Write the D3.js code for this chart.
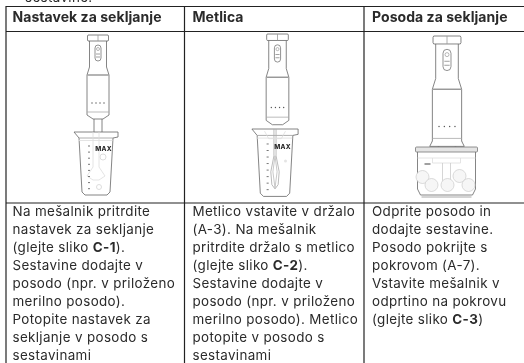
<!DOCTYPE html>
<html>
<head>
<meta charset="utf-8">
<script src="https://cdn.jsdelivr.net/npm/d3@7/dist/d3.min.js"></script>
<style>
  html, body { margin: 0; background: #fff; overflow: hidden; }
  svg { display: block; filter: blur(0.4px); }
  text { font-family: Inter, "Open Sans", sans-serif; fill: #2a2a2a; }
</style>
</head>
<body>
<script>
var headers = ["Nastavek za sekljanje", "Metlica", "Posoda za sekljanje"];
var carryOver = "sestavine.";
var column1 = ["Na mešalnik pritrdite", "nastavek za sekljanje", "(glejte sliko C-1).", "Sestavine dodajte v",
  "posodo (npr. v priloženo", "merilno posodo).", "Potopite nastavek za", "sekljanje v posodo s", "sestavinami"];
var column2 = ["Metlico vstavite v držalo", "(A-3). Na mešalnik", "pritrdite držalo s metlico", "(glejte sliko C-2).",
  "Sestavine dodajte v", "posodo (npr. v priloženo", "merilno posodo). Metlico", "potopite v posodo s", "sestavinami"];
var column3 = ["Odprite posodo in", "dodajte sestavine.", "Posodo pokrijte s", "pokrovom (A-7).", "Vstavite mešalnik v",
  "odprtino na pokrovu", "(glejte sliko C-3)"];
var jugLabel = "MAX";

// shape outlines, in the units of the blender drawing
var blenderCap = [[-10.5, 1], [-10, 0], [10, 0], [10.5, 1], [10.5, 5], [10, 6], [-10, 6], [-10.5, 5], [-10.5, 1]];
var blenderBody = [[-8.5, 6], [-8.5, 32], [-11, 40], [-11, 80], [-5, 84], [5, 84], [11, 80], [11, 40], [8.5, 32], [8.5, 6]];
var blenderFoot = [[-11, 79], [-13, 83], [13, 83], [11, 79]];
var jugOutline = [[-22, 0], [22, 0], [22, 5], [17, 6], [14, 60], [11, 63], [-11, 63], [-14, 60], [-17, 6], [-22, 0]];
var bowlOutline = [[-29, 0], [29, 0], [29, 41], [26, 47], [-26, 47], [-29, 41], [-29, 0]];
var fruitsX = [-24, -15, 1, 13, 22];
var fruitsY = [29, 37, 37, 28, 37];

var width = 524, height = 363;
var svg = d3.select("body").append("svg").attr("width", width).attr("height", height);
var line = d3.line();

function drawRows() {
  svg.append("text").attr("x", 25).attr("y", 2).attr("font-size", 13.4).attr("letter-spacing", 0.35).text(carryOver);

  var grid = svg.append("g").attr("stroke", "#222").attr("stroke-width", 1.2);
  [6.5, 31.5, 203].forEach(function(y) {
    grid.append("line").attr("x1", 6).attr("x2", width).attr("y1", y).attr("y2", y);
  });
  [6, 184.5, 364].forEach(function(x) {
    grid.append("line").attr("x1", x).attr("x2", x).attr("y1", 6).attr("y2", height);
  });
}

function drawHeaders() {
  var xs = [12.5, 192.5, 372];
  headers.forEach(function(h, i) {
    svg.append("text").attr("x", xs[i]).attr("y", 22).attr("letter-spacing", 0.05)
      .attr("font-size", 14).attr("font-weight", 700).text(h);
  });
}

function drawColumn(lines, x) {
  var y = d3.scaleLinear().domain([0, 1]).range([216, 234.05]);
  lines.forEach(function(l, i) {
    var t = svg.append("text").attr("x", x).attr("y", y(i)).attr("font-size", 13.4).attr("letter-spacing", 0.35);
    l.split(/(C-\d)/).forEach(function(part) {
      t.append("tspan").attr("font-weight", /^C-\d$/.test(part) ? 700 : 400).text(part);
    });
  });
}

function path(g, pts, sx, sy) {
  return g.append("path")
    .attr("d", line(pts.map(function(p) { return [sx(p[0]), sy(p[1])]; })))
    .attr("fill", "none").attr("stroke", "#666").attr("stroke-width", 0.8);
}

function drawBlender(cx, top, kx, ky, foot) {
  var sx = d3.scaleLinear().domain([0, 1]).range([cx, cx + kx]);
  var sy = d3.scaleLinear().domain([0, 1]).range([top, top + ky]);
  var g = svg.append("g");
  path(g, blenderBody, sx, sy).attr("fill", "#fff");
  if (foot) path(g, blenderFoot, sx, sy).attr("fill", "#fff");
  path(g, blenderCap, sx, sy).attr("fill", "#fff");
  path(g, [[0, 0], [0, 6]], sx, sy).attr("stroke", "#999");
  path(g, [[-10.5, 40], [10.5, 40]], sx, sy).attr("stroke", "#777").attr("stroke-width", 1.1);
  path(g, [[-11, 77], [11, 77]], sx, sy).attr("stroke", "#aaa");

  g.append("rect").attr("x", sx(-3)).attr("y", sy(10)).attr("width", sx(3) - sx(-3)).attr("height", sy(26) - sy(10))
    .attr("rx", 3 * kx).attr("fill", "none").attr("stroke", "#777").attr("stroke-width", 0.8);
  g.append("circle").attr("cx", sx(0)).attr("cy", sy(14)).attr("r", 1.5 * kx)
    .attr("fill", "none").attr("stroke", "#888").attr("stroke-width", 0.6);
  path(g, [[-2, 19], [2, 19]], sx, sy).attr("stroke", "#888");
  path(g, [[-2, 22], [2, 22]], sx, sy).attr("stroke", "#888");

  g.selectAll(".dot").data([-6, -2, 2, 6]).enter().append("circle")
    .attr("cx", function(d) { return sx(d); }).attr("cy", sy(68)).attr("r", 0.7).attr("fill", "#555");
}

function drawJug(cx, top, kx, ky, inner) {
  var sx = d3.scaleLinear().domain([0, 1]).range([cx, cx + kx]);
  var sy = d3.scaleLinear().domain([0, 1]).range([top, top + ky]);
  var g = svg.append("g");
  path(g, jugOutline, sx, sy).attr("fill", "#fff");
  path(g, [[-17, 6], [17, 6]], sx, sy).attr("stroke", "#999");
  inner(g, sx, sy);
  path(g, [[-18, 8.5], [16.5, 8.5]], sx, sy).attr("stroke", "#ddd");
  d3.range(8).forEach(function(i) {
    path(g, [[-8, 14 + i * 6.1], [-6, 14 + i * 6.1]], sx, sy).attr("stroke", "#777").attr("stroke-width", 1);
  });
  g.append("text").attr("x", sx(-0.8)).attr("y", sy(18.5)).attr("font-size", 6.4).attr("font-weight", 800)
    .attr("letter-spacing", 0.3).attr("fill", "#444").text(jugLabel);
}

function drawBlade(g, sx, sy) {
  path(g, [[-3, 0], [-3, 35], [-9, 44], [-3, 48], [3, 48], [9, 44], [3, 35], [3, 0]], sx, sy).attr("stroke", "#ddd");
  g.append("circle").attr("cx", sx(7)).attr("cy", sy(25)).attr("r", 3).attr("fill", "none").attr("stroke", "#ddd");
  g.append("circle").attr("cx", sx(3)).attr("cy", sy(55)).attr("r", 2.5).attr("fill", "none").attr("stroke", "#ddd");
}

function drawWhisk(g, sx, sy) {
  path(g, [[-1, 0], [-1, 25], [-4, 40], [-3, 52], [0, 56], [3, 52], [4, 40], [1, 25], [1, 0]], sx, sy).attr("stroke", "#aaa");
  path(g, [[0, 25], [-2, 40], [0, 55], [2, 40], [0, 25]], sx, sy).attr("stroke", "#bbb");
  path(g, [[-10, 2], [-6, 9], [6, 9], [10, 2]], sx, sy).attr("stroke", "#ddd");
  g.append("circle").attr("cx", sx(10)).attr("cy", sy(30)).attr("r", 1.5).attr("fill", "#e4e4e4");
}

function drawBowl(cx, top) {
  var sx = d3.scaleLinear().domain([0, 1]).range([cx, cx + 1]);
  var sy = d3.scaleLinear().domain([0, 1]).range([top, top + 1]);
  var g = svg.append("g");
  path(g, bowlOutline, sx, sy).attr("fill", "#fff");
  g.append("rect").attr("x", sx(-31)).attr("y", sy(-1)).attr("width", 62).attr("height", 5).attr("rx", 1)
    .attr("fill", "#e4e4e4").attr("stroke", "#777").attr("stroke-width", 0.8);
  path(g, [[-29, 10], [29, 10]], sx, sy).attr("stroke", "#ddd");
  path(g, [[-14, 10], [-14, 15], [14, 15], [14, 10]], sx, sy).attr("stroke", "#ddd");
  path(g, [[-4, 15], [-4, 38], [4, 38], [4, 15]], sx, sy).attr("stroke", "#ccc");
  path(g, [[-22, 16], [-16, 16]], sx, sy).attr("stroke", "#777").attr("stroke-width", 1.4);
  fruitsX.forEach(function(fx, i) {
    g.append("circle").attr("cx", sx(fx)).attr("cy", sy(fruitsY[i])).attr("r", 6.5)
      .attr("fill", "#f6f6f6").attr("stroke", "#ccc").attr("stroke-width", 0.7);
  });
  path(g, [[-25, 49], [25, 49]], sx, sy).attr("stroke", "#aaa").attr("stroke-width", 1.2);
}

drawRows();
drawHeaders();
drawColumn(column1, 12.5);
drawColumn(column2, 192.5);
drawColumn(column3, 372);

// first column: stem goes into the jug
drawBlender(98, 35, 1, 1, false);
path(svg.append("g"), [[-4, 84], [-4, 98], [4, 98], [4, 84]],
  d3.scaleLinear().domain([0, 1]).range([98, 99]), d3.scaleLinear().domain([0, 1]).range([35, 36]));
drawJug(96, 132, 1, 1, drawBlade);

// second column: body ends under the rim
drawBlender(277.5, 34, 1.03, 1.08, false);
drawJug(275, 129, 1.05, 1.07, drawWhisk);

// third column
drawBlender(447, 36, 1.33, 1.33, true);
drawBowl(446.5, 148);
</script>
</body>
</html>
